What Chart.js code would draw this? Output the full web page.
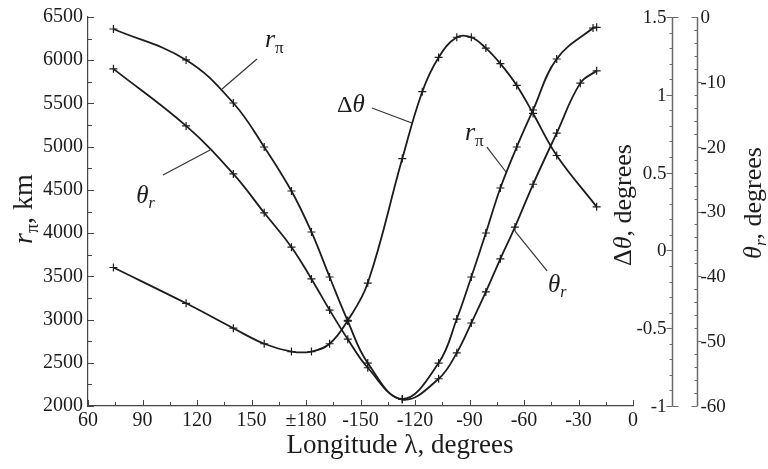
<!DOCTYPE html>
<html>
<head>
<meta charset="utf-8">
<script src="https://cdn.jsdelivr.net/npm/chart.js@4.4.1/dist/chart.umd.min.js"></script>
<style>
  html, body { margin: 0; padding: 0; background: #fff; }
</style>
</head>
<body>
<canvas id="chart" width="768" height="469"></canvas>
<script>
/** ────── DATA ────── */
// longitudes in degrees (east positive, west negative), read off the markers
const xTickLabels = ["60", "90", "120", "150", "±180", "-150", "-120", "-90", "-60", "-30", "0"];

const rpLon = [74, 114, 140, 157, 172, -177, -167, -157, -146, -127, -107, -97, -89, -81, -73, -64, -55, -42, -22, -20];
const rpKm = [6361, 6003, 5505, 4996, 4487, 4013, 3492, 2983, 2497, 2081, 2497, 3006, 3492, 4001, 4522, 4996, 5424, 6014, 6373, 6380];

const thrLon = [74, 114, 140, 157, 172, -177, -167, -157, -146, -127, -107, -97, -89, -81, -73, -65, -55, -42, -29, -20];
const thrDeg = [-8.0, -16.8, -24.2, -30.2, -35.5, -40.4, -45.2, -49.7, -54.1, -59.0, -55.8, -51.8, -47.2, -42.4, -37.3, -32.4, -25.8, -17.9, -10.2, -8.3];

const dthLon = [74, 114, 140, 157, 172, -177, -167, -157, -146, -127, -116, -107, -97, -89, -81, -73, -64, -55, -42, -20];
const dthDeg = [-0.11, -0.34, -0.50, -0.60, -0.65, -0.65, -0.60, -0.45, -0.21, 0.59, 1.02, 1.24, 1.37, 1.37, 1.30, 1.20, 1.06, 0.88, 0.61, 0.28];

// curve labels: text parts, text anchor, leader from / to, in (unwrapped lon, km)
const SERIF = '"Liberation Serif", "Times New Roman", serif';
const curveLabels = [
  { parts: [["r", "italic 26px " + SERIF, 0], ["π", "17px " + SERIF, 6]], at: [157.4, 6153], from: [153.0, 6014], to: [133.8, 5667] },
  { parts: [["θ", "italic 25px " + SERIF, 0], ["r", "italic 16px " + SERIF, 5]], at: [86.5, 4348], from: [101.3, 4672], to: [127.2, 4961] },
  { parts: [["Δ", "24px " + SERIF, 0], ["θ", "italic 25px " + SERIF, 0]], at: [197.1, 5401], from: [216.3, 5447], to: [238.3, 5274] },
  { parts: [["r", "italic 26px " + SERIF, 0], ["π", "17px " + SERIF, 6]], at: [267.5, 5077], from: [279.6, 4996], to: [290.1, 4707] },
  { parts: [["θ", "italic 25px " + SERIF, 0], ["r", "italic 16px " + SERIF, 5]], at: [313.2, 3319], from: [312.7, 3562], to: [295.0, 4024] },
];

const INK = "#1c1c1c";
const AXIS = "#444";
const AXIS2 = "#6a6a6a";

function unwrap(lon) {
  return lon < 60 ? lon + 360 : lon;
}
function toPoints(lons, vals) {
  return lons.map((l, i) => ({ x: unwrap(l), y: vals[i] }));
}

/** ────── DRAW HELPERS ────── */
function drawRich(ctx, parts, x, y, rotate, align) {
  ctx.save();
  ctx.translate(x, y);
  if (rotate) ctx.rotate(rotate);
  ctx.textBaseline = "alphabetic";
  ctx.textAlign = "left";
  ctx.fillStyle = INK;
  let w = 0;
  parts.forEach((p) => {
    ctx.font = p[1];
    w += ctx.measureText(p[0]).width;
  });
  let cx = align === "center" ? -w / 2 : 0;
  parts.forEach((p) => {
    ctx.font = p[1];
    ctx.fillText(p[0], cx, p[2] || 0);
    cx += ctx.measureText(p[0]).width;
  });
  ctx.restore();
}

function seg(ctx, x1, y1, x2, y2) {
  ctx.beginPath();
  ctx.moveTo(x1, y1);
  ctx.lineTo(x2, y2);
  ctx.stroke();
}

const decorPlugin = {
  id: "decor",
  afterDraw(chart) {
    const ctx = chart.ctx;
    const { x, y, yDt, yTr } = chart.scales;
    ctx.save();

    // inward ticks on the bottom and left axes
    ctx.strokeStyle = AXIS;
    ctx.lineWidth = 1;
    for (let v = 60; v <= 360; v += 15) {
      const px = Math.round(x.getPixelForValue(v)) + 0.5;
      seg(ctx, px, y.bottom, px, y.bottom - (v % 30 === 0 ? 6 : 4));
    }
    for (let v = 2000; v <= 6500; v += 250) {
      const py = Math.round(y.getPixelForValue(v)) + 0.5;
      seg(ctx, x.left, py, x.left + (v % 500 === 0 ? 6 : 4), py);
    }

    // Δθ axis
    const ax1 = Math.round(x.right + 39) + 0.5;
    ctx.strokeStyle = AXIS2;
    ctx.lineWidth = 1.5;
    seg(ctx, ax1, yDt.top, ax1, yDt.bottom);
    ctx.lineWidth = 1;
    for (let i = -10; i <= 15; i++) {
      const py = Math.round(yDt.getPixelForValue(i / 10)) + 0.5;
      if (i === -10 || i === 15) seg(ctx, ax1, py, ax1 + 6, py);
      if (i % 5 === 0) seg(ctx, ax1, py, ax1 - 6, py);
      else seg(ctx, ax1, py, ax1 - 3, py);
    }
    ctx.fillStyle = INK;
    ctx.font = "19px " + SERIF;
    ctx.textAlign = "right";
    ctx.textBaseline = "middle";
    [-1, -0.5, 0, 0.5, 1, 1.5].forEach((v) => {
      ctx.fillText(String(v), ax1 - 6, yDt.getPixelForValue(v) + 1);
    });

    // θr axis
    const ax2 = Math.round(x.right + 64) + 0.5;
    ctx.lineWidth = 1.5;
    seg(ctx, ax2, yTr.top, ax2, yTr.bottom);
    ctx.lineWidth = 1;
    for (let v = -60; v <= 0; v += 2) {
      const py = Math.round(yTr.getPixelForValue(v)) + 0.5;
      if (v === 0 || v === -60) seg(ctx, ax2, py, ax2 - 6, py);
      else if (v % 10 === 0) seg(ctx, ax2, py, ax2 + 4, py);
      else seg(ctx, ax2, py, ax2 - 3, py);
    }
    ctx.textAlign = "left";
    for (let v = -60; v <= 0; v += 10) {
      ctx.fillText(String(v), ax2 + 3, yTr.getPixelForValue(v) + 1);
    }

    // axis titles
    drawRich(ctx, [["Longitude λ, degrees", "27px " + SERIF, 0]], 400, 453, 0, "center");
    drawRich(ctx, [["r", "italic 28px " + SERIF, 0], ["π", "18px " + SERIF, 6], [", km", "28px " + SERIF, 0]],
      32, 209, -Math.PI / 2, "center");
    drawRich(ctx, [["Δ", "26px " + SERIF, 0], ["θ", "italic 26px " + SERIF, 0], [", degrees", "26px " + SERIF, 0]],
      631, 205, -Math.PI / 2, "center");
    drawRich(ctx, [["θ", "italic 26px " + SERIF, 0], ["r", "italic 17px " + SERIF, 5], [", degrees", "26px " + SERIF, 0]],
      761, 203, -Math.PI / 2, "center");

    // curve labels with leader lines
    ctx.strokeStyle = "#333";
    ctx.lineWidth = 1.2;
    curveLabels.forEach((lb) => {
      seg(ctx, x.getPixelForValue(lb.from[0]), y.getPixelForValue(lb.from[1]),
        x.getPixelForValue(lb.to[0]), y.getPixelForValue(lb.to[1]));
      drawRich(ctx, lb.parts, x.getPixelForValue(lb.at[0]), y.getPixelForValue(lb.at[1]), 0, "left");
    });

    ctx.restore();
  },
};

/** ────── CHART ────── */
const lineStyle = {
  borderColor: INK,
  borderWidth: 1.8,
  pointStyle: "cross",
  pointRadius: 4,
  pointBorderWidth: 1.2,
  pointBorderColor: INK,
  pointBackgroundColor: INK,
  tension: 0.4,
  fill: false,
};

const tickFont = { family: SERIF, size: 20 };

new Chart(document.getElementById("chart"), {
  type: "line",
  data: {
    datasets: [
      { label: "r_pi", data: toPoints(rpLon, rpKm), yAxisID: "y", ...lineStyle },
      { label: "theta_r", data: toPoints(thrLon, thrDeg), yAxisID: "yTr", ...lineStyle },
      { label: "dtheta", data: toPoints(dthLon, dthDeg), yAxisID: "yDt", ...lineStyle },
    ],
  },
  options: {
    responsive: false,
    animation: false,
    devicePixelRatio: 1,
    layout: { padding: { top: 17, right: 135, left: 0, bottom: 0 } },
    plugins: { legend: { display: false }, tooltip: { enabled: false } },
    scales: {
      x: {
        type: "linear",
        min: 60,
        max: 360,
        grid: { display: false, drawTicks: false },
        border: { color: AXIS, width: 1.2 },
        ticks: {
          stepSize: 30,
          autoSkip: false,
          maxRotation: 0,
          padding: 3,
          color: INK,
          font: tickFont,
          callback: (v) => xTickLabels[Math.round((v - 60) / 30)],
        },
        afterFit: (s) => { s.height = 63; },
      },
      y: {
        position: "left",
        min: 2000,
        max: 6500,
        grid: { display: false, drawTicks: false },
        border: { color: AXIS, width: 1.2 },
        ticks: { stepSize: 500, padding: 5, color: INK, font: tickFont, callback: (v) => String(v) },
        afterFit: (s) => { s.width = 88; },
      },
      yDt: { position: "right", display: false, min: -1, max: 1.5 },
      yTr: { position: "right", display: false, min: -60, max: 0 },
    },
  },
  plugins: [decorPlugin],
});
</script>
</body>
</html>
